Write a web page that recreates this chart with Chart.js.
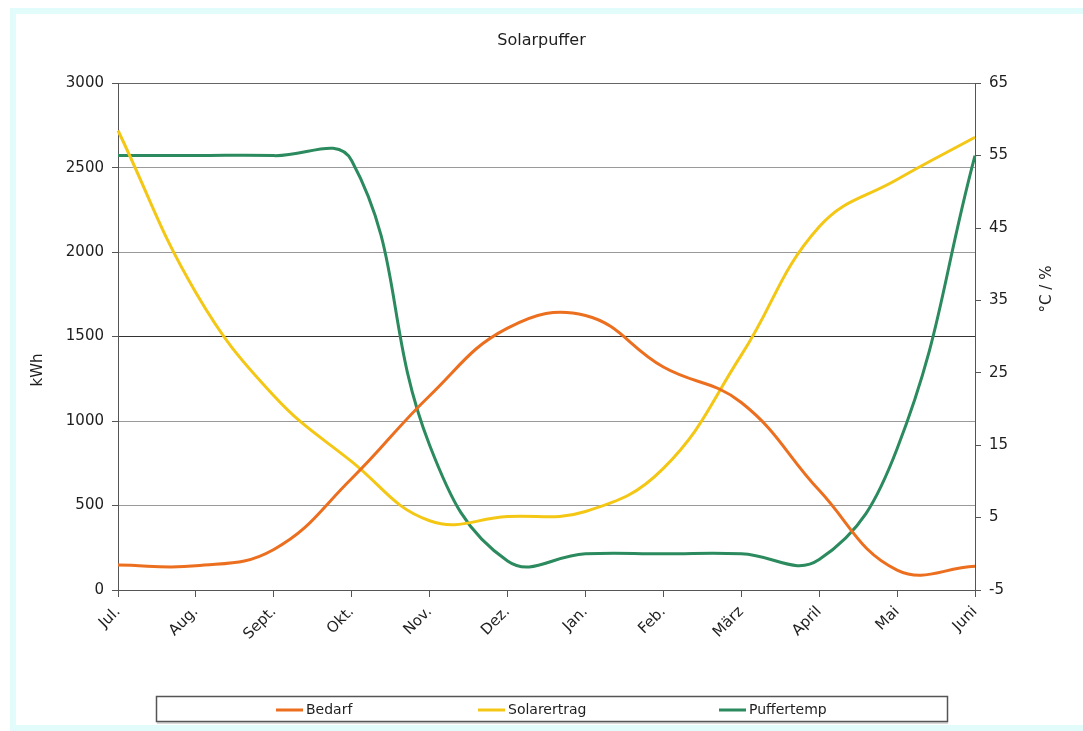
<!DOCTYPE html>
<html>
<head>
<meta charset="utf-8">
<script src="https://cdn.jsdelivr.net/npm/chart.js@4"></script>
<style>
  html, body { margin: 0; padding: 0; background: #ffffff; }
  body { width: 1083px; height: 731px; position: relative; overflow: hidden; }
  #frame {
    position: absolute; left: 10px; top: 8px; width: 1073px; height: 711px;
    border-left: 6px solid #e2fbfb; border-top: 6px solid #e2fbfb; border-bottom: 6px solid #e2fbfb;
  }
  #wrap { position: absolute; left: 0; top: 0; width: 1083px; height: 731px; }
</style>
</head>
<body>
<div id="frame"></div>
<div id="wrap"><canvas id="c" width="1083" height="731"></canvas></div>
<script>
// Months of the buffer year
const months = ['Jul.', 'Aug.', 'Sept.', 'Okt.', 'Nov.', 'Dez.', 'Jan.', 'Feb.', 'März', 'April', 'Mai', 'Juni'];

// Demand and solar yield in kWh (left axis)
const bedarf = [148, 143, 240, 660, 1150, 1550, 1625, 1320, 1110, 590, 118, 140];
const solarertrag = [2720, 1760, 1150, 760, 410, 435, 465, 720, 1390, 2150, 2430, 2680];

// Buffer temperature in °C (right axis)
const puffertemp = [55, 55, 55, 54.3, 15, -1, 0, 0, 0, -0.8, 14.5, 55];

// Tick values of both value axes
const kwhTicks = [0, 500, 1000, 1500, 2000, 2500, 3000];
const tempTicks = [-5, 5, 15, 25, 35, 45, 55, 65];

const FONT = '"DejaVu Sans", Verdana, sans-serif';
const TEXT = '#1e1e1e';

// Axis titles sitting beside the value axes
const axisTitles = {
  id: 'axisTitles',
  afterDraw(chart) {
    const ctx = chart.ctx;
    const put = (text, x, y) => {
      ctx.save();
      ctx.fillStyle = TEXT;
      ctx.font = '15px ' + FONT;
      ctx.textAlign = 'center';
      ctx.textBaseline = 'middle';
      ctx.translate(x, y);
      ctx.rotate(-Math.PI / 2);
      ctx.fillText(text, 0, 0);
      ctx.restore();
    };
    put('kWh', 38, 370);
    put('°C / %', 1047, 289);
  }
};

// Boxed legend below the chart with wide item spacing
const boxedLegend = {
  id: 'boxedLegend',
  afterDraw(chart) {
    const ctx = chart.ctx;
    const slots = [276, 478, 719];
    ctx.save();
    ctx.fillStyle = '#d8d8d8';
    ctx.fillRect(157, 722, 791, 2);
    ctx.strokeStyle = '#555';
    ctx.lineWidth = 1.5;
    ctx.strokeRect(156.5, 696.5, 791, 25);
    ctx.font = '14px ' + FONT;
    ctx.textBaseline = 'middle';
    chart.data.datasets.forEach((ds, i) => {
      const x = slots[i];
      const y = 710;
      ctx.strokeStyle = ds.borderColor;
      ctx.lineWidth = 3;
      ctx.beginPath();
      ctx.moveTo(x, y);
      ctx.lineTo(x + 27, y);
      ctx.stroke();
      ctx.fillStyle = TEXT;
      ctx.textAlign = 'left';
      ctx.fillText(ds.label, x + 30, y);
    });
    ctx.restore();
  }
};

const plain = v => String(v);

new Chart(document.getElementById('c'), {
  type: 'line',
  data: {
    labels: months,
    datasets: [
      { label: 'Bedarf', data: bedarf, yAxisID: 'y', borderColor: '#ec6f1f' },
      { label: 'Solarertrag', data: solarertrag, yAxisID: 'y', borderColor: '#f4c715' },
      { label: 'Puffertemp', data: puffertemp, yAxisID: 'y1', borderColor: '#2b8a5e' }
    ]
  },
  options: {
    responsive: false,
    animation: false,
    layout: { padding: 0 },
    elements: {
      line: { borderWidth: 3, tension: 0.42, fill: false },
      point: { radius: 0, hoverRadius: 0 }
    },
    plugins: {
      legend: { display: false },
      tooltip: { enabled: false },
      title: {
        display: true,
        text: 'Solarpuffer',
        color: TEXT,
        font: { family: FONT, size: 16, weight: 'normal', lineHeight: 1.2 },
        padding: { top: 31, bottom: 33 }
      }
    },
    scales: {
      x: {
        offset: false,
        grid: { drawOnChartArea: false, tickLength: 7, tickColor: '#555' },
        border: { color: '#555', width: 1 },
        ticks: {
          color: TEXT, font: { family: FONT, size: 15 },
          maxRotation: 45, minRotation: 45, padding: 6, autoSkip: false
        },
        afterFit(s) { s.height = 141; }
      },
      y: {
        position: 'left',
        min: 0, max: 3000,
        afterBuildTicks(s) { s.ticks = kwhTicks.map(v => ({ value: v })); },
        grid: {
          color: ctx => {
            const v = ctx.tick && ctx.tick.value;
            if (v === 1500) return '#333';
            if (v === 3000) return '#666';
            return '#9a9a9a';
          },
          lineWidth: 1,
          borderDash: [1, 1],
          tickLength: 6,
          tickColor: '#555',
          tickBorderDash: []
        },
        border: { color: '#555', width: 1 },
        ticks: { color: TEXT, font: { family: FONT, size: 15 }, padding: 8, callback: plain },
        afterFit(s) { s.width = 118; }
      },
      y1: {
        position: 'right',
        min: -5, max: 65,
        afterBuildTicks(s) { s.ticks = tempTicks.map(v => ({ value: v })); },
        grid: { drawOnChartArea: false, tickLength: 6, tickColor: '#555' },
        border: { color: '#555', width: 1 },
        ticks: { color: TEXT, font: { family: FONT, size: 15 }, padding: 8, callback: plain },
        afterFit(s) { s.width = 108; }
      }
    }
  },
  plugins: [axisTitles, boxedLegend]
});
</script>
</body>
</html>
